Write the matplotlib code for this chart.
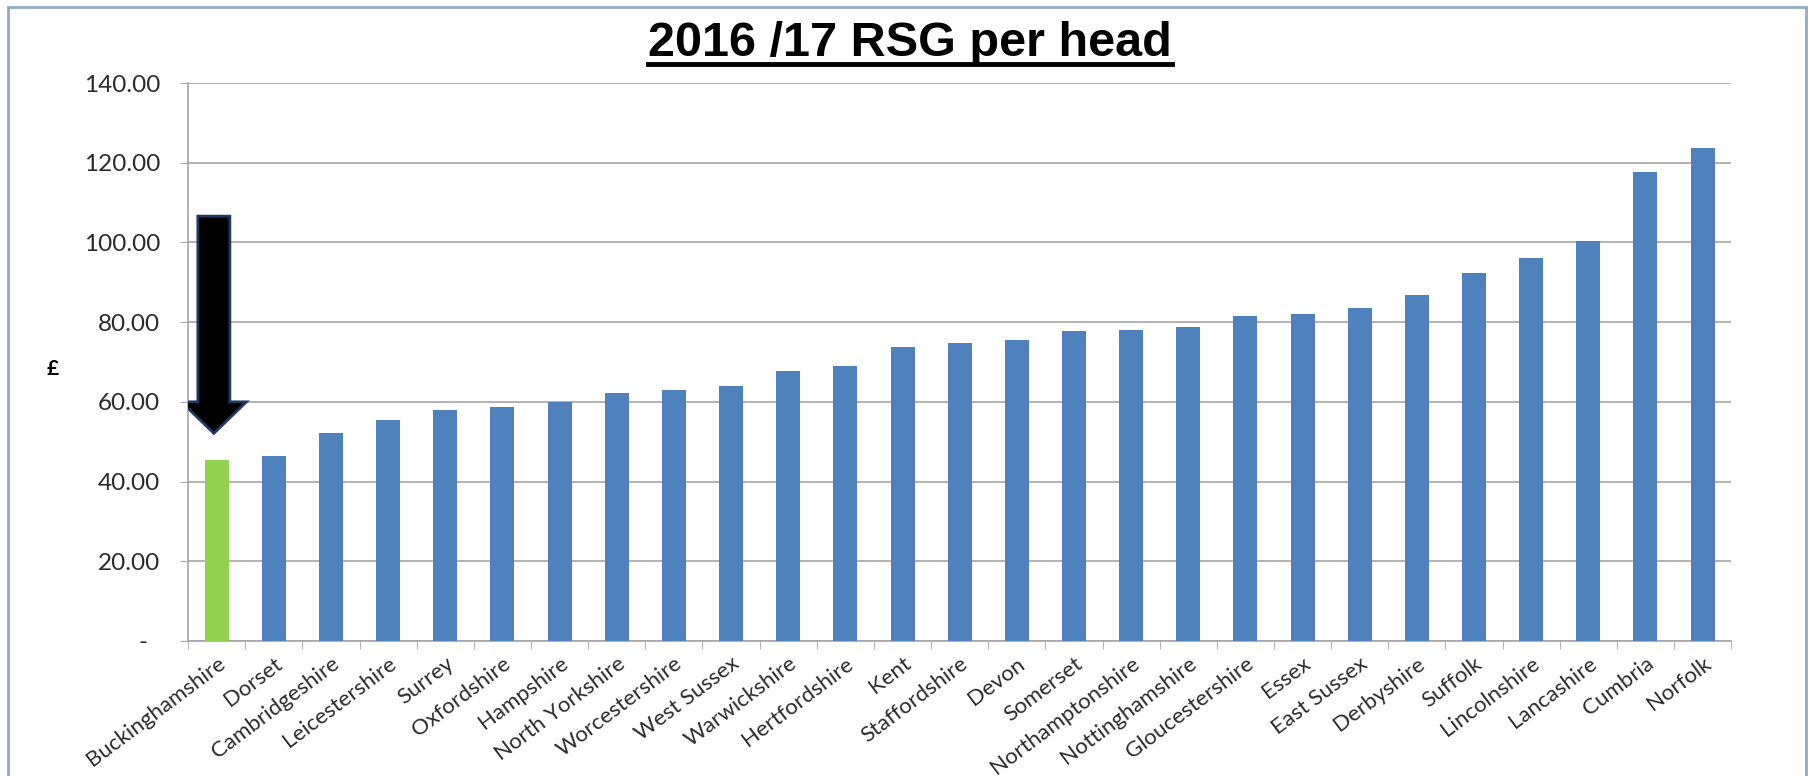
import numpy as np
import matplotlib.pyplot as plt
from matplotlib.patches import FancyArrow, Rectangle
from matplotlib.lines import Line2D

# ==== data ====
counties = ["Buckinghamshire", "Dorset", "Cambridgeshire", "Leicestershire", "Surrey",
            "Oxfordshire", "Hampshire", "North Yorkshire", "Worcestershire", "West Sussex",
            "Warwickshire", "Hertfordshire", "Kent", "Staffordshire", "Devon", "Somerset",
            "Northamptonshire", "Nottinghamshire", "Gloucestershire", "Essex", "East Sussex",
            "Derbyshire", "Suffolk", "Lincolnshire", "Lancashire", "Cumbria", "Norfolk"]
rsg_per_head = [45.3, 46.5, 52.2, 55.4, 57.9, 58.6, 60.0, 62.2, 63.0, 64.1,
                67.7, 69.1, 73.7, 74.8, 75.4, 77.8, 78.1, 78.7, 81.6, 82.1,
                83.6, 86.7, 92.3, 96.2, 100.4, 117.7, 123.6]
highlight = "Buckinghamshire"
y_ticks = [0, 20, 40, 60, 80, 100, 120, 140]
y_ticklabels = ["-  ", "20.00", "40.00", "60.00", "80.00", "100.00", "120.00", "140.00"]

BLUE = "#4F81BD"
GREEN = "#92D050"
TXT = "#2B2B2B"
GRID = "#A6A6A6"

plt.rcParams['font.family'] = ['Lato', 'DejaVu Sans']

fig = plt.figure(figsize=(18.09, 7.76), dpi=100)
ax = fig.add_axes([0.104, 0.174, 0.853, 0.719])

x = np.arange(len(counties))
colors = [GREEN if c == highlight else BLUE for c in counties]
ax.bar(x, rsg_per_head, width=0.42, color=colors, zorder=3)

ax.set_xlim(-0.5, len(counties) - 0.5)
ax.set_ylim(0, 140)
ax.set_yticks(y_ticks)
ax.set_yticklabels(y_ticklabels, fontsize=17.5, color=TXT)
ax.yaxis.grid(True, color=GRID, linewidth=1.2, zorder=0)
ax.tick_params(axis='y', length=6, color=GRID, pad=14)

# category labels at centres, tick marks between categories
ax.set_xticks(x)
ax.set_xticklabels(counties, rotation=37, ha='right', va='top', rotation_mode='anchor',
                   fontsize=16, color=TXT)
ax.tick_params(axis='x', which='major', length=0, pad=9)
ax.set_xticks(np.arange(-0.5, len(counties), 1), minor=True)
ax.tick_params(axis='x', which='minor', length=6, color=GRID)

for s in ['top', 'right']:
    ax.spines[s].set_visible(False)
for s in ['left', 'bottom']:
    ax.spines[s].set_color(GRID)
    ax.spines[s].set_linewidth(1.2)

ax.set_ylabel("£", rotation=0, fontsize=15, fontweight='bold', va='center')
ax.yaxis.set_label_coords(-0.088, 0.487)

# arrow pointing at the highlighted bar
hi = counties.index(highlight)
arrow = FancyArrow(hi - 0.05, 106.6, 0, -54.5, width=0.56, head_width=1.14,
                   head_length=7.9, length_includes_head=True,
                   facecolor='black', edgecolor='#1F3864', linewidth=2, zorder=5)
ax.add_patch(arrow)

# title with underline
title = fig.text(0.503, 0.944, "2016 /17 RSG per head", ha='center', va='center',
                 fontsize=35, fontweight='bold', family=['Liberation Sans', 'DejaVu Sans'])
fig.canvas.draw()
bb = title.get_window_extent().transformed(fig.transFigure.inverted())
fig.add_artist(Line2D([bb.x0, bb.x1], [bb.y0 + 0.002, bb.y0 + 0.002], color='black',
                      linewidth=3.5, transform=fig.transFigure))

# outer chart frame
fig.add_artist(Rectangle((8 / 1809, -0.05), 1 - 11 / 1809, 1.05 - 7 / 776,
                         transform=fig.transFigure, fill=False,
                         edgecolor='#8EA9C9', linewidth=2))

plt.savefig("out.png", dpi=100)
